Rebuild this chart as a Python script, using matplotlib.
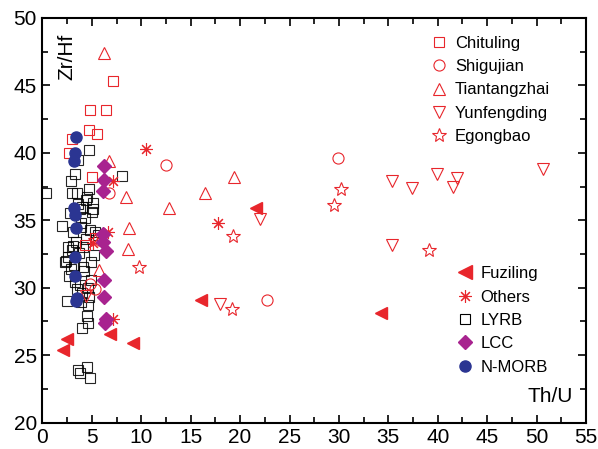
import matplotlib
matplotlib.use("Agg")
import matplotlib.pyplot as plt
from matplotlib.ticker import MultipleLocator
from matplotlib.lines import Line2D

plt.rcParams['font.family'] = ['Liberation Sans', 'DejaVu Sans']

# Th/U, Zr/Hf pairs
chituling_x = [7.1, 4.8, 6.4, 4.7, 5.5, 3.0, 2.7, 5.0, 5.3, 4.3]
chituling_y = [45.3, 43.2, 43.2, 41.7, 41.4, 41.0, 40.0, 38.2, 33.7, 33.2]

shigujian_x = [12.5, 29.9, 22.7, 6.7, 5.3, 4.8]
shigujian_y = [39.1, 39.6, 29.1, 37.0, 29.9, 30.3]

tiantangzhai_x = [6.2, 6.7, 8.5, 16.4, 12.8, 19.4, 8.8, 8.7, 5.7]
tiantangzhai_y = [47.4, 39.4, 36.7, 37.0, 35.9, 38.2, 34.4, 32.9, 31.3]

yunfengding_x = [22.0, 35.4, 35.4, 18.0, 37.4, 39.9, 41.9, 41.5, 50.6, 4.4]
yunfengding_y = [35.1, 37.9, 33.2, 28.8, 37.4, 38.4, 38.1, 37.5, 38.8, 29.4]

egongbao_x = [19.3, 30.2, 29.5, 19.2, 39.1, 9.8, 5.3]
egongbao_y = [33.8, 37.3, 36.1, 28.4, 32.8, 31.5, 33.5]

fuziling_x = [21.6, 34.3, 16.0, 6.8, 9.2, 2.5, 2.1]
fuziling_y = [35.9, 28.1, 29.1, 26.6, 25.9, 26.2, 25.4]

others_x = [10.5, 7.1, 17.8, 6.6, 7.1, 5.1]
others_y = [40.3, 37.9, 34.8, 34.1, 27.7, 33.3]

lyrb_x = [0.4, 4.7, 3.3, 2.9, 8.0, 4.7, 3.6, 3.0, 3.5, 5.1, 4.5, 4.0, 5.1,
          2.0, 5.0, 3.1, 4.8, 5.3, 4.1, 3.0, 2.4, 2.7, 4.9, 4.1, 3.8, 2.5,
          3.9, 4.6, 4.5, 4.6, 4.0, 3.6, 3.8, 4.5, 4.8, 3.6, 4.3, 2.8, 3.9,
          4.4, 3.4, 5.6, 2.6, 3.7, 4.2, 3.2, 4.9, 2.9, 3.5, 4.6, 2.3, 4.0,
          3.1, 5.2, 3.8, 2.6, 4.4, 3.3, 4.7, 3.9]
lyrb_y = [37.0, 40.2, 38.4, 37.9, 38.3, 37.3, 39.5, 37.0, 37.0, 36.3, 36.7,
          36.0, 35.8, 34.6, 35.6, 34.1, 34.3, 34.1, 33.0, 32.8, 32.0, 30.9,
          31.9, 31.5, 30.2, 29.0, 28.9, 28.7, 27.9, 27.4, 27.0, 23.9, 23.7,
          24.1, 23.3, 36.2, 35.2, 35.5, 34.8, 33.6, 33.4, 33.9, 32.3, 32.6,
          31.2, 31.7, 30.6, 31.4, 29.9, 30.0, 31.9, 29.6, 33.1, 32.4, 35.8,
          33.0, 36.5, 30.4, 29.3, 34.5]

lcc_x = [6.2, 6.2, 6.1, 6.1, 6.1, 6.4, 6.2, 6.2, 6.4, 6.3]
lcc_y = [39.0, 38.0, 37.2, 34.0, 33.4, 32.7, 30.6, 29.3, 27.7, 27.4]

nmorb_x = [3.4, 3.3, 3.2, 3.2, 3.3, 3.4, 3.3, 3.3, 3.5, 3.4]
nmorb_y = [41.2, 40.0, 39.4, 35.9, 35.4, 34.4, 32.3, 30.9, 29.2, 29.0]

red = '#E8262C'
purple = '#A8238F'
blue = '#2B3592'

fig = plt.figure(figsize=(5.98, 4.49), dpi=100)
ax = fig.add_axes([0.071, 0.059, 0.909, 0.901])

ms = 7
lw = 0.8
ax.plot(lyrb_x, lyrb_y, 's', ms=ms, mfc='none', mec='black', mew=lw, alpha=0.85, ls='none')
ax.plot(chituling_x, chituling_y, 's', ms=ms, mfc='none', mec=red, mew=lw, ls='none')
ax.plot(shigujian_x, shigujian_y, 'o', ms=ms + 1, mfc='none', mec=red, mew=lw, ls='none')
ax.plot(tiantangzhai_x, tiantangzhai_y, '^', ms=ms + 2, mfc='none', mec=red, mew=lw, ls='none')
ax.plot(yunfengding_x, yunfengding_y, 'v', ms=ms + 2, mfc='none', mec=red, mew=lw, ls='none')
ax.plot(egongbao_x, egongbao_y, '*', ms=ms + 3, mfc='none', mec=red, mew=lw, ls='none')
ax.plot(fuziling_x, fuziling_y, '<', ms=ms + 2, mfc=red, mec=red, ls='none')
ax.plot(others_x, others_y, marker=(8, 2, 0), ms=ms + 2, mec=red, mew=lw, ls='none')
ax.plot(lcc_x, lcc_y, 'D', ms=ms, mfc=purple, mec=purple, ls='none')
ax.plot(nmorb_x, nmorb_y, 'o', ms=ms + 1, mfc=blue, mec=blue, ls='none')

ax.set_xlim(0, 55)
ax.set_ylim(20, 50)
ax.xaxis.set_major_locator(MultipleLocator(5))
ax.xaxis.set_minor_locator(MultipleLocator(2.5))
ax.yaxis.set_major_locator(MultipleLocator(5))
ax.yaxis.set_minor_locator(MultipleLocator(2.5))
ax.tick_params(which='both', direction='in', top=True, right=True,
               labelsize=15, width=1.2, pad=4)
ax.tick_params(which='major', length=6)
ax.tick_params(which='minor', length=4)
for s in ax.spines.values():
    s.set_linewidth(1.5)

ax.text(0.027, 0.96, 'Zr/Hf', transform=ax.transAxes, rotation=90,
        fontsize=15, va='top', ha='left')
ax.text(0.975, 0.04, 'Th/U', transform=ax.transAxes, fontsize=15,
        ha='right', va='bottom')

h1 = [
    Line2D([], [], marker='s', ls='none', ms=7, mfc='none', mec=red, mew=lw, label='Chituling'),
    Line2D([], [], marker='o', ls='none', ms=8, mfc='none', mec=red, mew=lw, label='Shigujian'),
    Line2D([], [], marker='^', ls='none', ms=9, mfc='none', mec=red, mew=lw, label='Tiantangzhai'),
    Line2D([], [], marker='v', ls='none', ms=9, mfc='none', mec=red, mew=lw, label='Yunfengding'),
    Line2D([], [], marker='*', ls='none', ms=10, mfc='none', mec=red, mew=lw, label='Egongbao'),
]
h2 = [
    Line2D([], [], marker='<', ls='none', ms=10, mfc=red, mec=red, label='Fuziling'),
    Line2D([], [], marker=(8, 2, 0), ls='none', ms=9, mec=red, mew=lw, label='Others'),
    Line2D([], [], marker='s', ls='none', ms=7, mfc='none', mec='black', mew=lw, label='LYRB'),
    Line2D([], [], marker='D', ls='none', ms=7, mfc=purple, mec=purple, label='LCC'),
    Line2D([], [], marker='o', ls='none', ms=8, mfc=blue, mec=blue, label='N-MORB'),
]
leg1 = ax.legend(handles=h1, loc='upper left', bbox_to_anchor=(0.693, 0.985),
                 frameon=False, fontsize=12, handlelength=1.0,
                 handletextpad=0.45, labelspacing=0.5, borderpad=0.2)
ax.add_artist(leg1)
ax.legend(handles=h2, loc='upper left', bbox_to_anchor=(0.74, 0.415),
          frameon=False, fontsize=12, handlelength=1.0,
          handletextpad=0.45, labelspacing=0.5, borderpad=0.2)

fig.savefig('out.png', dpi=100)
